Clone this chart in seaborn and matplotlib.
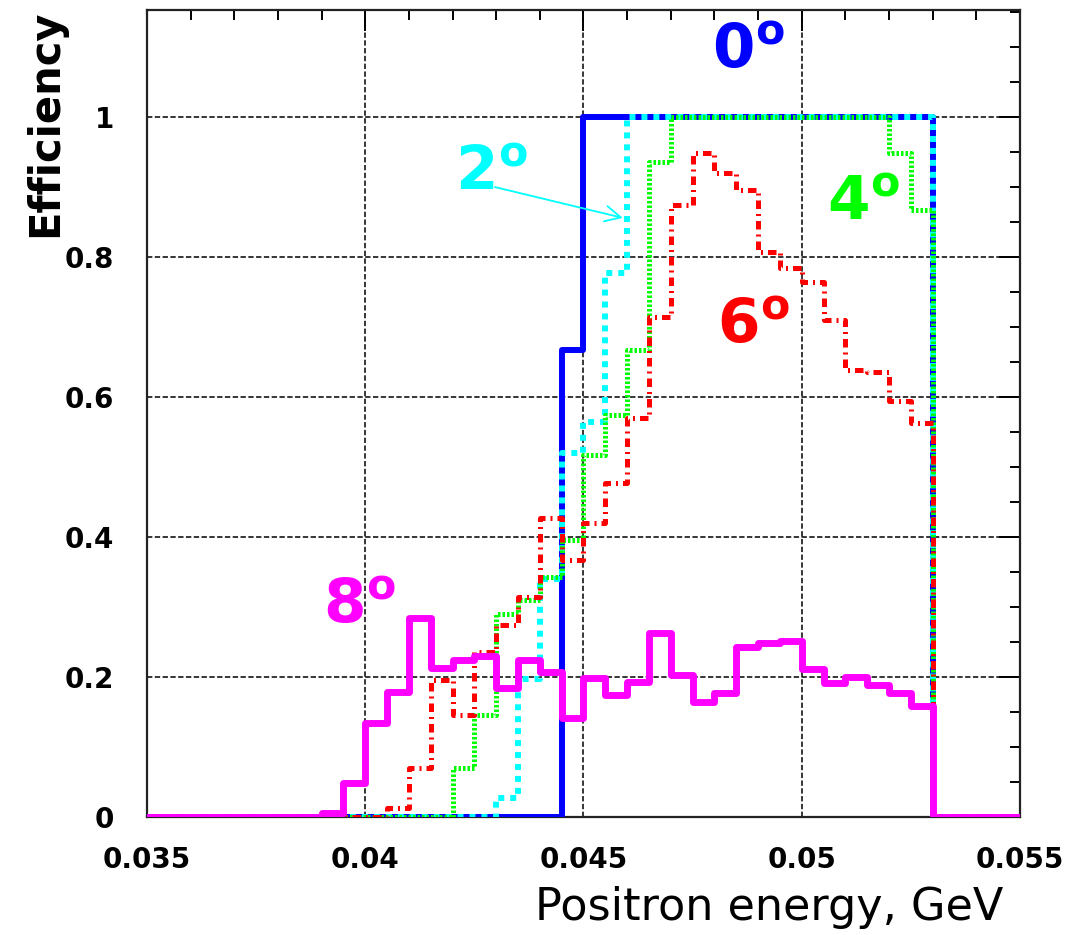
import numpy as np
import pandas as pd
import matplotlib
matplotlib.use("Agg")
import matplotlib.pyplot as plt
import seaborn as sns
from matplotlib.ticker import MultipleLocator, FuncFormatter

# ---------------- data ----------------
# 40 bins of 0.0005 GeV from 0.035 to 0.055 GeV
energy_edges = np.round(np.linspace(0.035, 0.055, 41), 5)

eff_0deg = [0, 0, 0, 0, 0, 0, 0, 0, 0, 0,
            0, 0, 0, 0, 0, 0, 0, 0, 0, 0.667,
            1, 1, 1, 1, 1, 1, 1, 1, 1, 1,
            1, 1, 1, 1, 1, 1, 0, 0, 0, 0]
eff_2deg = [0, 0, 0, 0, 0, 0, 0, 0, 0, 0,
            0, 0, 0, 0, 0, 0, 0.027, 0.197, 0.34, 0.52,
            0.564, 0.777, 1, 1, 1, 1, 1, 1, 1, 1,
            1, 1, 1, 1, 1, 1, 0, 0, 0, 0]
eff_4deg = [0, 0, 0, 0, 0, 0, 0, 0, 0, 0,
            0, 0, 0, 0, 0.07, 0.146, 0.29, 0.31, 0.343, 0.396,
            0.517, 0.574, 0.667, 0.936, 1, 1, 1, 1, 1, 1,
            1, 1, 1, 1, 0.949, 0.867, 0, 0, 0, 0]
eff_6deg = [0, 0, 0, 0, 0, 0, 0, 0, 0, 0,
            0, 0.013, 0.07, 0.196, 0.146, 0.236, 0.274, 0.314, 0.427, 0.367,
            0.42, 0.477, 0.57, 0.714, 0.874, 0.949, 0.92, 0.896, 0.807, 0.785,
            0.764, 0.71, 0.639, 0.636, 0.594, 0.563, 0, 0, 0, 0]
eff_8deg = [0, 0, 0, 0, 0, 0, 0, 0, 0.006, 0.049,
            0.134, 0.179, 0.284, 0.213, 0.224, 0.23, 0.184, 0.224, 0.207, 0.141,
            0.198, 0.174, 0.193, 0.263, 0.203, 0.164, 0.177, 0.243, 0.248, 0.252,
            0.211, 0.191, 0.2, 0.189, 0.177, 0.159, 0, 0, 0, 0]

angles = ["0", "2", "4", "6", "8"]
series = [eff_0deg, eff_2deg, eff_4deg, eff_6deg, eff_8deg]

x_ticks = [0.035, 0.04, 0.045, 0.05, 0.055]
y_ticks = [0, 0.2, 0.4, 0.6, 0.8, 1.0]

# ---------------- styles ----------------
colors = {"0": "#0000ff", "2": "#00ffff", "4": "#00ff00", "6": "#ff0000", "8": "#ff00ff"}
styles = {
    "0": dict(linewidth=4.3, linestyle="-"),
    "2": dict(linewidth=4.3, linestyle=(0, (1.0, 1.0))),
    "4": dict(linewidth=3.6, linestyle=(0, (0.5, 0.4))),
    "6": dict(linewidth=3.6, linestyle=(0, (1.7, 1.0, 0.4, 1.0))),
    "8": dict(linewidth=5.0, linestyle="-"),
}
label_pos = {"0": (0.04794, 1.07), "2": (0.04206, 0.896), "4": (0.05058, 0.853),
             "6": (0.04806, 0.677), "8": (0.03903, 0.277)}

centers = (energy_edges[:-1] + energy_edges[1:]) / 2
frames = []
for a, vals in zip(angles, series):
    frames.append(pd.DataFrame({"energy": centers, "efficiency": vals, "angle": a}))
df = pd.concat(frames, ignore_index=True)

sns.set_theme(style="white")
plt.rcParams["font.family"] = ["DejaVu Sans"]
plt.rcParams["mathtext.fontset"] = "dejavusans"
plt.rcParams["text.color"] = "black"
plt.rcParams["axes.labelcolor"] = "black"
plt.rcParams["xtick.color"] = "black"
plt.rcParams["ytick.color"] = "black"

fig = plt.figure(figsize=(10.73, 9.35), dpi=100)
fig.patch.set_facecolor("white")
ax = fig.add_axes([147 / 1073, 1 - 817 / 935, 873 / 1073, 807 / 935])
ax.set_facecolor("white")

for a in angles:
    sub = df[df["angle"] == a]
    sns.histplot(data=sub, x="energy", weights="efficiency", bins=energy_edges.tolist(),
                 element="step", fill=False, color=colors[a], ax=ax,
                 zorder=3, **styles[a])

ax.set_xlim(0.035, 0.055)
ax.set_ylim(0, 1.153)

ax.xaxis.set_major_locator(MultipleLocator(0.005))
ax.xaxis.set_minor_locator(MultipleLocator(0.001))
ax.yaxis.set_major_locator(MultipleLocator(0.2))
ax.yaxis.set_minor_locator(MultipleLocator(0.05))
ax.set_xticks(x_ticks)
ax.set_yticks(y_ticks)
fmt = FuncFormatter(lambda v, p: f"{v:g}")
ax.xaxis.set_major_formatter(fmt)
ax.yaxis.set_major_formatter(fmt)

ax.tick_params(which="both", direction="in", top=True, right=True, color="black",
               labelcolor="black", width=1.4)
ax.tick_params(which="major", length=15)
ax.tick_params(which="minor", length=7)
ax.tick_params(axis="x", which="major", pad=21, labelsize=20)
ax.tick_params(axis="y", which="major", pad=24, labelsize=20)
for lab in ax.get_xticklabels() + ax.get_yticklabels():
    lab.set_fontweight("bold")

ax.grid(True, which="major", color="black", linestyle=(0, (3.5, 1.6)), linewidth=1.1)
ax.set_axisbelow(True)
for sp in ax.spines.values():
    sp.set_color("#222222")
    sp.set_linewidth(1.6)

ax.set_xlabel("Positron energy, GeV", fontsize=32, loc="right", color="black")
ax.xaxis.set_label_coords((1003 - 147) / 873, (817 - 886) / 807)
ax.set_ylabel("Efficiency", fontsize=30, fontweight="bold", loc="top", color="black")
ax.yaxis.set_label_coords((66 - 147) / 873, 1.0)

for a in angles:
    x, y = label_pos[a]
    ax.text(x, y, a + r"$^{\mathbf{o}}$", color=colors[a], fontsize=44,
            fontweight="bold", ha="left", va="baseline", zorder=5)

ax.annotate("", xy=(0.04590, 0.856), xytext=(0.04297, 0.90),
            arrowprops=dict(arrowstyle="->", color="#00ffff", lw=1.3,
                            mutation_scale=28, shrinkA=0, shrinkB=0),
            zorder=5)

fig.savefig("out.png", dpi=100, facecolor="white")
